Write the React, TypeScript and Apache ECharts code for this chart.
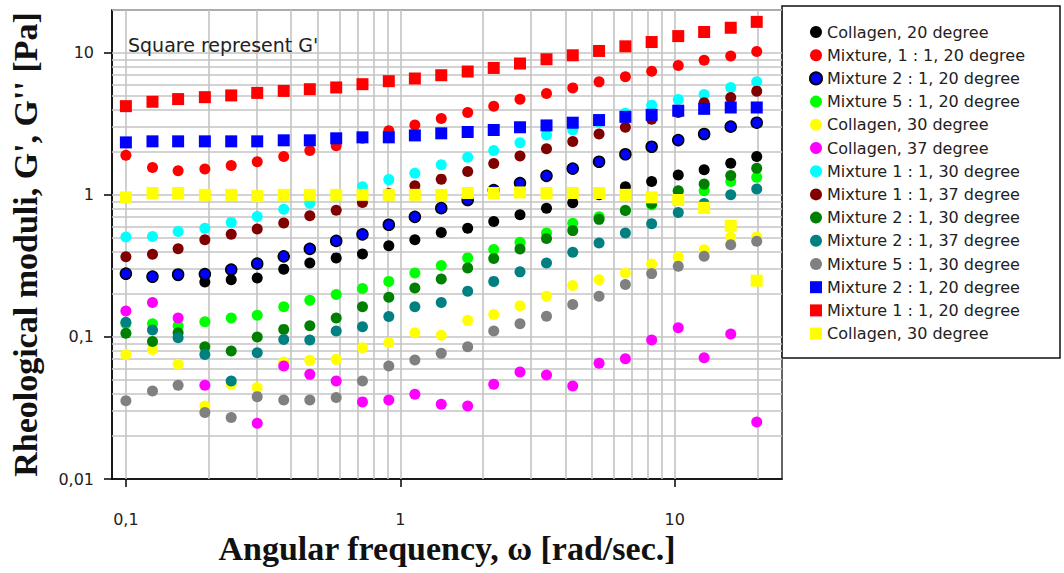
import React, { useEffect, useRef } from "react";
import * as echarts from "echarts";

// Angular frequency sweep, rad/s
const omega = [0.1, 0.125, 0.155, 0.194, 0.242, 0.301, 0.376, 0.468, 0.584, 0.728, 0.908, 1.13, 1.41, 1.76, 2.19, 2.73, 3.41, 4.25, 5.3, 6.61, 8.24, 10.3, 12.8, 16.0, 19.9];

// Loss modulus G'' (circles), Pa
const collagen20 = [0.275, 0.262, 0.27, 0.244, 0.253, 0.26, 0.3, 0.331, 0.36, 0.383, 0.439, 0.483, 0.544, 0.583, 0.65, 0.724, 0.806, 0.88, 1.0, 1.14, 1.24, 1.38, 1.5, 1.67, 1.86];
const mix11at20 = [1.9, 1.56, 1.48, 1.52, 1.61, 1.71, 1.86, 2.05, 2.22, 2.5, 2.83, 3.1, 3.45, 3.8, 4.21, 4.7, 5.17, 5.66, 6.24, 6.77, 7.41, 8.13, 8.86, 9.5, 10.2];
const mix21at20 = [0.279, 0.266, 0.275, 0.277, 0.298, 0.328, 0.369, 0.417, 0.474, 0.527, 0.616, 0.7, 0.806, 0.92, 1.08, 1.21, 1.36, 1.53, 1.71, 1.93, 2.18, 2.43, 2.68, 3.02, 3.22];
const mix51at20 = [0.124, 0.124, 0.12, 0.128, 0.136, 0.142, 0.163, 0.181, 0.199, 0.219, 0.246, 0.282, 0.318, 0.36, 0.413, 0.463, 0.539, 0.63, 0.7, 0.78, 0.85, 1.06, 1.07, 1.24, 1.33];
const collagen30 = [0.0753, 0.0817, 0.0641, 0.0327, 0.0464, 0.044, 0.0666, 0.0684, 0.0695, 0.084, 0.091, 0.107, 0.1026, 0.131, 0.144, 0.166, 0.193, 0.23, 0.253, 0.282, 0.326, 0.365, 0.411, 0.505, 0.505];
const collagen37 = [0.152, 0.175, 0.136, 0.0457, null, 0.0247, 0.0624, 0.0545, 0.049, 0.0349, 0.036, 0.0395, 0.0336, 0.0327, 0.0464, 0.0566, 0.054, 0.0452, 0.0652, 0.0703, 0.095, 0.116, 0.0714, 0.105, 0.0252];
const mix11at30 = [0.505, 0.51, 0.553, 0.583, 0.64, 0.705, 0.793, 0.874, 0.99, 1.14, 1.28, 1.42, 1.63, 1.84, 2.05, 2.33, 2.64, 2.86, 3.25, 3.75, 4.28, 4.69, 5.09, 5.7, 6.24];
const mix11at37 = [0.367, 0.382, 0.417, 0.483, 0.528, 0.574, 0.633, 0.712, 0.78, 0.885, 1.02, 1.16, 1.29, 1.46, 1.66, 1.88, 2.11, 2.37, 2.68, 2.99, 3.4, 3.8, 4.44, 4.85, 5.37];
const mix21at30 = [0.106, 0.093, 0.107, 0.0853, 0.0795, 0.1, 0.113, 0.12, 0.136, 0.163, 0.19, 0.221, 0.256, 0.306, 0.356, 0.416, 0.493, 0.56, 0.672, 0.776, 0.87, 1.07, 1.19, 1.37, 1.54];
const mix21at37 = [0.127, 0.112, 0.0987, 0.0753, 0.049, 0.0774, 0.096, 0.095, 0.11, 0.118, 0.139, 0.163, 0.175, 0.21, 0.246, 0.287, 0.331, 0.394, 0.458, 0.539, 0.625, 0.751, 0.87, 1.0, 1.1];
const mix51at30 = [0.0355, 0.0417, 0.0457, 0.0294, 0.0271, 0.038, 0.036, 0.036, 0.0374, 0.049, 0.0624, 0.0688, 0.0766, 0.0853, 0.11, 0.124, 0.14, 0.169, 0.193, 0.234, 0.279, 0.314, 0.369, 0.446, 0.471];

// Storage modulus G' (squares), Pa
const mix21at20G1 = [2.34, 2.38, 2.38, 2.38, 2.38, 2.38, 2.42, 2.42, 2.5, 2.54, 2.54, 2.62, 2.71, 2.77, 2.86, 2.99, 3.08, 3.22, 3.36, 3.54, 3.66, 3.91, 4.03, 4.12, 4.12];
const mix11at20G1 = [4.21, 4.52, 4.72, 4.87, 5.01, 5.22, 5.39, 5.54, 5.7, 6.01, 6.31, 6.59, 6.95, 7.38, 7.82, 8.4, 9.0, 9.6, 10.3, 11.1, 11.9, 13.1, 14.0, 15.0, 16.5];
const collagen30G1 = [0.96, 1.03, 1.03, 1.0, 1.0, 0.98, 1.0, 1.0, 1.0, 1.0, 1.0, 1.0, 1.0, 1.03, 1.03, 1.04, 1.03, 1.03, 1.03, 1.0, 0.96, 0.92, 0.81, 0.606, 0.249];

// Log grid lines
const xGridValues = [0.1, 0.2, 0.3, 0.4, 0.5, 0.6, 0.7, 0.8, 0.9, 1, 2, 3, 4, 5, 6, 7, 8, 9, 10, 20];
const yGridValues = [0.02, 0.03, 0.04, 0.05, 0.06, 0.07, 0.08, 0.09, 0.1, 0.2, 0.3, 0.4, 0.5, 0.6, 0.7, 0.8, 0.9, 1, 2, 3, 4, 5, 6, 7, 8, 9, 10, 20];

const G1_SUFFIX = " (G')";

type SeriesDef = { name: string; values: (number | null)[]; color: string; symbol: string; border?: string };

const seriesDefs: SeriesDef[] = [
  { name: "Collagen, 20 degree", values: collagen20, color: "#000000", symbol: "circle" },
  { name: "Mixture, 1 : 1, 20 degree", values: mix11at20, color: "#ff0000", symbol: "circle" },
  { name: "Mixture 2 : 1, 20 degree", values: mix21at20, color: "#0000ff", symbol: "circle", border: "#000000" },
  { name: "Mixture 5 : 1, 20 degree", values: mix51at20, color: "#00ff00", symbol: "circle" },
  { name: "Collagen, 30 degree", values: collagen30, color: "#ffff00", symbol: "circle" },
  { name: "Collagen, 37 degree", values: collagen37, color: "#ff00ff", symbol: "circle" },
  { name: "Mixture 1 : 1, 30 degree", values: mix11at30, color: "#00ffff", symbol: "circle" },
  { name: "Mixture 1 : 1, 37 degree", values: mix11at37, color: "#800000", symbol: "circle" },
  { name: "Mixture 2 : 1, 30 degree", values: mix21at30, color: "#008000", symbol: "circle" },
  { name: "Mixture 2 : 1, 37 degree", values: mix21at37, color: "#008080", symbol: "circle" },
  { name: "Mixture 5 : 1, 30 degree", values: mix51at30, color: "#808080", symbol: "circle" },
  { name: "Mixture 2 : 1, 20 degree" + G1_SUFFIX, values: mix21at20G1, color: "#0000ff", symbol: "rect" },
  { name: "Mixture 1 : 1, 20 degree" + G1_SUFFIX, values: mix11at20G1, color: "#ff0000", symbol: "rect" },
  { name: "Collagen, 30 degree" + G1_SUFFIX, values: collagen30G1, color: "#ffff00", symbol: "rect" },
];

const isDecade = (v: number) => {
  const l = Math.log10(v);
  return Math.abs(l - Math.round(l)) < 1e-6;
};
const decadeLabel = (v: number) => (isDecade(v) ? String(Math.round(v * 100) / 100).replace(".", ",") : "");

export default function App() {
  const ref = useRef<HTMLDivElement>(null);

  useEffect(() => {
    if (!ref.current) return;
    const chart = echarts.init(ref.current, undefined, { renderer: "svg" });

    const series: any[] = seriesDefs.map((s, idx) => ({
      type: "scatter",
      name: s.name,
      symbol: s.symbol,
      symbolSize: s.symbol === "rect" ? 12 : 11,
      z: 2,
      data: omega.map((w, i) => (s.values[i] == null ? null : [w, s.values[i]])).filter((d) => d !== null),
      itemStyle: {
        color: s.color,
        borderColor: s.border ?? s.color,
        borderWidth: s.border ? 1.5 : 0,
        opacity: 1,
      },
      emphasis: { disabled: true },
      ...(idx === 0
        ? {
            markLine: {
              silent: true,
              z: 1,
              symbol: "none",
              label: { show: false },
              emphasis: { disabled: true },
              lineStyle: { color: "#c4c4c4", width: 1.6, type: "solid" },
              data: [
                ...xGridValues.map((v) => ({ xAxis: v })),
                ...yGridValues.map((v) => ({ yAxis: v })),
              ],
            },
          }
        : {}),
    }));

    chart.setOption({
      animation: false,
      backgroundColor: "#ffffff",
      title: {
        text: "Square represent G'",
        left: 128,
        top: 35,
        padding: 0,
        textStyle: { fontFamily: "DejaVu Sans", fontSize: 19, fontWeight: "normal", color: "#222222" },
      },
      grid: {
        left: 108,
        top: 10,
        width: 674,
        height: 469,
        show: true,
        borderColor: "#333333",
        borderWidth: 1.5,
        backgroundColor: "transparent",
      },
      xAxis: {
        type: "log",
        logBase: 10,
        min: 0.089,
        max: 24.6,
        name: "Angular frequency, ω [rad/sec.]",
        nameLocation: "middle",
        nameGap: 52,
        nameTextStyle: { fontFamily: "Liberation Serif", fontWeight: "bold", fontSize: 34, color: "#111111" },
        axisLine: { show: true, lineStyle: { color: "#000000", width: 1.5 } },
        axisTick: { show: true, inside: false, length: 8, lineStyle: { color: "#000000", width: 1.5 } },
        axisLabel: {
          formatter: (v: number) => decadeLabel(v),
          showMinLabel: false,
          showMaxLabel: false,
          margin: 32,
          fontFamily: "DejaVu Sans",
          fontSize: 16,
          color: "#222222",
        },
        splitLine: { show: false },
      },
      yAxis: {
        type: "log",
        logBase: 10,
        min: 0.01,
        max: 20,
        name: "Rheological moduli, G', G'' [Pa]",
        nameLocation: "middle",
        nameGap: 70,
        nameTextStyle: { fontFamily: "Liberation Serif", fontWeight: "bold", fontSize: 34, color: "#111111" },
        axisLine: { show: true, lineStyle: { color: "#000000", width: 1.5 } },
        axisTick: { show: true, inside: false, length: 8, lineStyle: { color: "#000000", width: 1.5 } },
        axisLabel: {
          formatter: (v: number) => decadeLabel(v),
          showMaxLabel: false,
          margin: 18,
          fontFamily: "DejaVu Sans",
          fontSize: 16,
          color: "#222222",
        },
        splitLine: { show: false },
      },
      legend: {
        orient: "vertical",
        left: 809,
        top: 24,
        padding: 0,
        itemWidth: 12,
        itemHeight: 12,
        itemGap: 7.2,
        itemTextGap: 27,
        selectedMode: false,
        data: seriesDefs.map((s) => s.name),
        formatter: (name: string) => name.replace(G1_SUFFIX, ""),
        textStyle: { fontFamily: "DejaVu Sans", fontSize: 16, lineHeight: 16, color: "#222222" },
      },
      graphic: [
        {
          type: "rect",
          z: -1,
          shape: { x: 782, y: 6, width: 278, height: 352 },
          style: { fill: "#ffffff", stroke: "#111111", lineWidth: 1.5 },
          silent: true,
        },
      ],
      series,
    });

    return () => chart.dispose();
  }, []);

  return <div ref={ref} style={{ position: "fixed", left: 0, top: 0, width: 1064, height: 573 }} />;
}
